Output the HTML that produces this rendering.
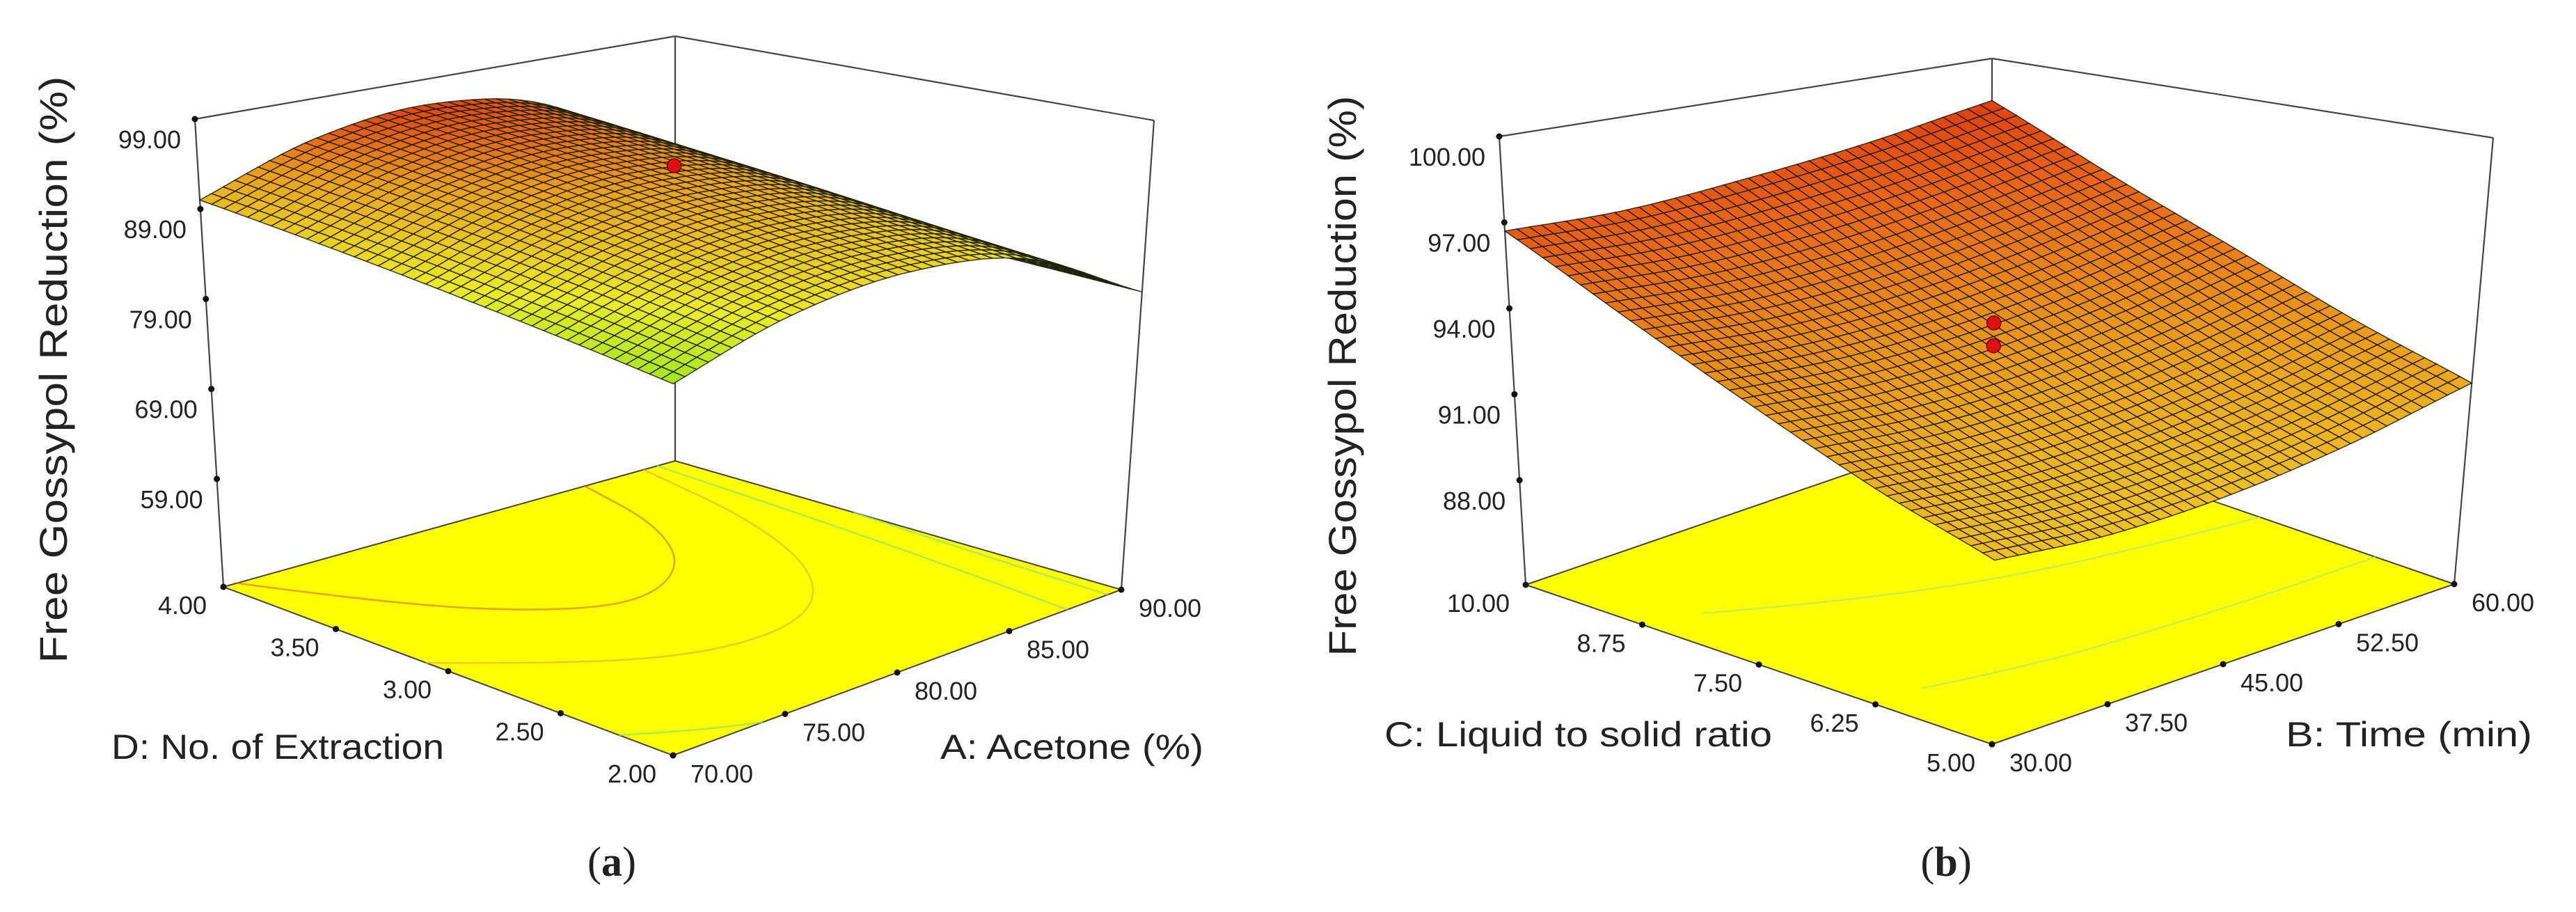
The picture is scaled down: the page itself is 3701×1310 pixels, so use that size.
<!DOCTYPE html>
<html><head><meta charset="utf-8"><style>
html,body{margin:0;padding:0;background:#fff;}
svg{display:block;}
text{font-family:"Liberation Sans",sans-serif;fill:#222;}
</style></head><body>
<svg id="fig" width="3701" height="1310" viewBox="0 0 3701 1310" xmlns="http://www.w3.org/2000/svg">
<rect width="3701" height="1310" fill="#fff"/>
<g id="pa"></g>
<g id="pb"></g>
<text x="879" y="1258" text-anchor="middle" font-size="60" style="font-family:'Liberation Serif',serif">(<tspan font-weight="bold">a</tspan>)</text>
<text x="2796" y="1258" text-anchor="middle" font-size="60" style="font-family:'Liberation Serif',serif">(<tspan font-weight="bold">b</tspan>)</text>
</svg>
<script>
// ---- Panel A data ----
const aAcetone = [70, 75, 80, 85, 90];
const aExtraction = [2, 2.5, 3, 3.5, 4];
const aResponse = [
  [82.0, 86.0, 87.8, 86.5, 80.0],
  [84.0, 88.2, 89.9, 88.1, 80.5],
  [86.0, 90.3, 92.0, 89.8, 81.0],
  [88.0, 92.4, 94.0, 91.4, 81.5],
  [90.0, 94.5, 96.0, 93.0, 82.0]
];
const aZTicks = [59, 69, 79, 89, 99];
const aUTicks = ["70.00", "75.00", "80.00", "85.00", "90.00"];
const aVTicks = ["2.00", "2.50", "3.00", "3.50", "4.00"];
const aDesignPts = [94.0];
// ---- Panel B data ----
const bTime = [30, 37.5, 45, 52.5, 60];
const bRatio = [5, 6.25, 7.5, 8.75, 10];
const bResponse = [
  [89.8, 89.6, 89.8, 90.4, 91.4],
  [91.0, 90.8, 91.0, 91.6, 92.6],
  [92.6, 92.4, 92.6, 93.2, 94.2],
  [94.5, 94.3, 94.5, 95.1, 96.0],
  [96.7, 96.6, 96.9, 97.4, 98.2]
];
const bZTicks = [88, 91, 94, 97, 100];
const bUTicks = ["30.00", "37.50", "45.00", "52.50", "60.00"];
const bVTicks = ["5.00", "6.25", "7.50", "8.75", "10.00"];
const bDesignPts = [93.5, 92.7];

const NS = "http://www.w3.org/2000/svg";
function mk(parent, tag, attrs, txt) {
  const e = document.createElementNS(NS, tag);
  for (const k in attrs) e.setAttribute(k, attrs[k]);
  if (txt !== undefined) e.textContent = txt;
  parent.appendChild(e);
  return e;
}
function lerp(a, b, t) { return [a[0] + (b[0] - a[0]) * t, a[1] + (b[1] - a[1]) * t]; }
function bil(c, u, v) {
  const p = lerp(c[0], c[1], u), q = lerp(c[2], c[3], u);
  return lerp(p, q, v);
}
function cr(p0, p1, p2, p3, t) {
  return 0.5 * ((2 * p1) + (-p0 + p2) * t + (2 * p0 - 5 * p1 + 4 * p2 - p3) * t * t + (-p0 + 3 * p1 - 3 * p2 + p3) * t * t * t);
}
function interp1(arr, s) {
  const n = arr.length - 1, x = s * n;
  let i = Math.min(Math.floor(x), n - 1); const t = x - i;
  const g = k => arr[Math.max(0, Math.min(n, k))];
  let p0 = g(i - 1), p3 = g(i + 2);
  if (i - 1 < 0) p0 = 2 * arr[0] - arr[1];
  if (i + 2 > n) p3 = 2 * arr[n] - arr[n - 1];
  return cr(p0, g(i), g(i + 1), p3, t);
}
function surf(M, u, v) {
  const cols = M.map(row => interp1(row, u));
  return interp1(cols, v);
}
function cmap(stops, z) {
  if (z <= stops[0][0]) return "rgb(" + stops[0][1].join(",") + ")";
  for (let i = 1; i < stops.length; i++) {
    if (z <= stops[i][0]) {
      const t = (z - stops[i - 1][0]) / (stops[i][0] - stops[i - 1][0]);
      const a = stops[i - 1][1], b = stops[i][1];
      return "rgb(" + [0, 1, 2].map(k => Math.round(a[k] + (b[k] - a[k]) * t)).join(",") + ")";
    }
  }
  const c = stops[stops.length - 1][1]; return "rgb(" + c.join(",") + ")";
}
function smoothPath(pts) {
  let d = "M" + pts[0][0].toFixed(1) + "," + pts[0][1].toFixed(1);
  for (let i = 1; i < pts.length - 1; i++) {
    const m = lerp(pts[i], pts[i + 1], 0.5);
    d += " Q" + pts[i][0].toFixed(1) + "," + pts[i][1].toFixed(1) + " " + m[0].toFixed(1) + "," + m[1].toFixed(1);
  }
  const l = pts[pts.length - 1];
  d += " L" + l[0].toFixed(1) + "," + l[1].toFixed(1);
  return d;
}

function drawPanel(g, cfg) {
  const F = cfg.floor, T = cfg.top;
  const P = (u, v, z) => {
    const t = (z - cfg.zb) / (cfg.zt - cfg.zb);
    return lerp(bil(F, u, v), bil(T, u, v), t);
  };
  const ln = (a, b, name) => {
    const l = mk(g, "line", {x1: a[0], y1: a[1], x2: b[0], y2: b[1], stroke: "#444", "stroke-width": 2.2});
    
    
  };
  ln(F[2], T[2], "z-axis-line");
  ln(T[2], T[3], "box-top-left-edge");
  ln(T[3], T[1], "box-top-right-edge");
  ln(T[1], F[1], "box-right-vertical-edge");
  ln(T[3], F[3], "box-back-vertical-edge");
  const fl = mk(g, "polygon", {points: [F[0], F[1], F[3], F[2]].map(p => p.join(",")).join(" "), fill: "#ffff00", stroke: "#444", "stroke-width": 2});
  
  
  for (const c of cfg.floorContours) {
    const pts = c.uv.map(p => bil(F, p[0], p[1]));
    const pl = mk(g, "path", {d: smoothPath(pts), fill: "none", stroke: c.col, "stroke-width": 2.5, opacity: 0.7});
    
    
  }
  const N = 40, quads = [], Z = [];
  for (let i = 0; i <= N; i++) { Z.push([]); for (let j = 0; j <= N; j++) Z[i].push(surf(cfg.M, i / N, j / N)); }
  for (let i = 0; i < N; i++) for (let j = 0; j < N; j++) {
    const u0 = i / N, u1 = (i + 1) / N, v0 = j / N, v1 = (j + 1) / N;
    const pts = [P(u0, v0, Z[i][j]), P(u1, v0, Z[i + 1][j]), P(u1, v1, Z[i + 1][j + 1]), P(u0, v1, Z[i][j + 1])];
    const zavg = (Z[i][j] + Z[i + 1][j] + Z[i + 1][j + 1] + Z[i][j + 1]) / 4;
    const depth = bil(F, (u0 + u1) / 2, (v0 + v1) / 2)[1];
    quads.push({pts, zavg, depth});
  }
  quads.sort((a, b) => a.depth - b.depth);
  const sg = mk(g, "g", {});
  
  
  for (const q of quads) {
    const p = mk(sg, "polygon", {points: q.pts.map(p => p[0].toFixed(1) + "," + p[1].toFixed(1)).join(" "), fill: cmap(cfg.stops, q.zavg), stroke: "#1a1a0a", "stroke-width": 1.5, "stroke-opacity": 0.85});
    
    
  }
  cfg.design.forEach(z => {
    const p = P(0.5, 0.5, z);
    const c = mk(g, "circle", {cx: p[0], cy: p[1], r: 10, fill: "#e01010", stroke: "#600", "stroke-width": 1.5});
    
    
  });
  cfg.zTicks.forEach(z => {
    const p = lerp(F[2], T[2], (z - cfg.zb) / (cfg.zt - cfg.zb));
    const d = mk(g, "circle", {cx: p[0], cy: p[1], r: 4.5, fill: "#111"});
    
    
    const t = mk(g, "text", {x: p[0] - 20, y: p[1] + 42, "text-anchor": "end", "font-size": 36}, z.toFixed(2));
    
    
  });
  cfg.uTicks.forEach((s, i) => {
    const p = lerp(F[0], F[1], i / (cfg.uTicks.length - 1));
    const d = mk(g, "circle", {cx: p[0], cy: p[1], r: 4.5, fill: "#111"});
    
    
    const t = mk(g, "text", {x: p[0] + 70, y: p[1] + 39, "text-anchor": "middle", "font-size": 36}, s);
    
    
  });
  cfg.vTicks.forEach((s, i) => {
    const p = lerp(F[0], F[2], i / (cfg.vTicks.length - 1));
    const d = mk(g, "circle", {cx: p[0], cy: p[1], r: 4.5, fill: "#111"});
    
    
    const t = mk(g, "text", {x: p[0] - (s.length > 4 ? 68 : 59), y: p[1] + 39, "text-anchor": "middle", "font-size": 36}, s);
    
    
  });
  const zt = mk(g, "text", {x: 0, y: 0, "text-anchor": "middle", "font-size": 56, textLength: cfg.zTitle.len, lengthAdjust: "spacingAndGlyphs", transform: "translate(" + cfg.zTitle.x + "," + cfg.zTitle.y + ") rotate(-90)"}, "Free Gossypol Reduction (%)");
  
  
  const vt = mk(g, "text", {x: cfg.vTitle.x, y: cfg.vTitle.y, "font-size": 50, textLength: cfg.vTitle.len, lengthAdjust: "spacingAndGlyphs"}, cfg.vTitle.s);
  
  
  const ut = mk(g, "text", {x: cfg.uTitle.x, y: cfg.uTitle.y, "font-size": 50, textLength: cfg.uTitle.len, lengthAdjust: "spacingAndGlyphs"}, cfg.uTitle.s);
  
  
}

const GREEN = [110, 225, 30], YEL = [235, 235, 40], ORA = [235, 160, 30], RED = [220, 50, 15];
drawPanel(document.getElementById("pa"), {
  floor: [[967, 1085], [1611, 847], [321, 843], [970, 662]],
  top: [[967, 292], [1658, 173], [280, 171], [970, 52]],
  zb: 47, zt: 99, M: aResponse,
  stops: [[79, GREEN], [86, YEL], [92, ORA], [97, RED]],
  design: aDesignPts, zTicks: aZTicks, uTicks: aUTicks, vTicks: aVTicks,
  zTitle: {x: 96, y: 531, len: 843},
  vTitle: {x: 160, y: 1090, len: 478, s: "D: No. of Extraction"},
  uTitle: {x: 1351, y: 1090, len: 378, s: "A: Acetone (%)"},
  floorContours: [
    {col: "#e07a10", uv: [[0.03, 1.0], [0.15, 0.78], [0.3, 0.6], [0.45, 0.52], [0.62, 0.6], [0.74, 0.78], [0.8, 1.0]]},
    {col: "#e8b030", uv: [[0.0, 0.55], [0.18, 0.38], [0.38, 0.27], [0.58, 0.28], [0.74, 0.42], [0.86, 0.68], [0.93, 1.0]]},
    {col: "#90e070", uv: [[0.97, 0.0], [0.98, 0.3], [1.0, 0.6]]},
    {col: "#90e070", uv: [[0.88, 0.0], [0.92, 0.4], [0.96, 1.0]]},
    {col: "#90e070", uv: [[0.0, 0.12], [0.1, 0.05], [0.2, 0.0]]}
  ]
});
drawPanel(document.getElementById("pb"), {
  floor: [[2862, 1069], [3526, 839], [2192, 840], [2861, 610]],
  top: [[2873, 310], [3582, 198], [2154, 196], [2862, 84]],
  zb: 84.35, zt: 100, M: bResponse,
  stops: [[88, [240, 215, 45]], [92, ORA], [96, [232, 100, 25]], [99, RED]],
  design: bDesignPts, zTicks: bZTicks, uTicks: bUTicks, vTicks: bVTicks,
  zTitle: {x: 1948, y: 540, len: 805},
  vTitle: {x: 1989, y: 1072, len: 557, s: "C: Liquid to solid ratio"},
  uTitle: {x: 3284, y: 1072, len: 354, s: "B: Time (min)"},
  floorContours: [
    {col: "#a8e870", uv: [[0.1, 0.72], [0.3, 0.6], [0.55, 0.5], [0.8, 0.45], [1.0, 0.42]]},
    {col: "#a8e870", uv: [[0.1, 0.25], [0.3, 0.2], [0.55, 0.18], [0.8, 0.17], [1.0, 0.17]]}
  ]
});
</script>
</body></html>
